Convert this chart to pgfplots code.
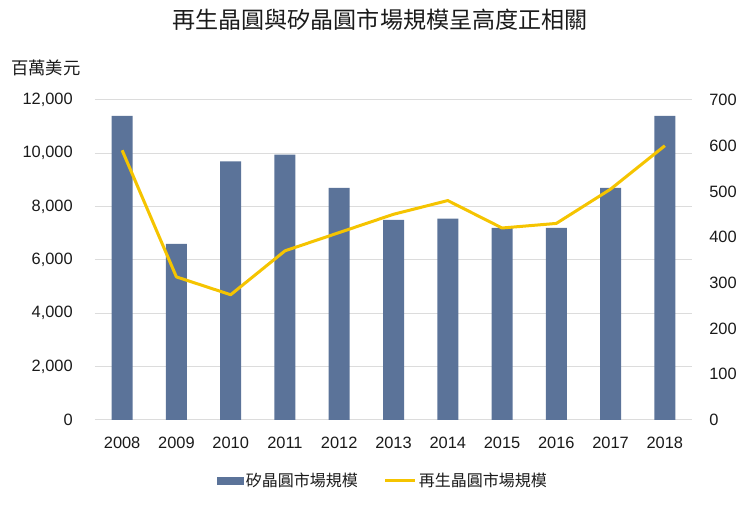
\documentclass[border=0pt]{standalone}
\usepackage{pgfplots}
\pgfplotsset{compat=1.18}
\usepackage{fontspec}
\setmainfont{Liberation Sans}
\newfontfamily\cjk{Noto Sans CJK TC}
\definecolor{barblue}{HTML}{5B7399}
\definecolor{lineyellow}{HTML}{F5C400}
\definecolor{gridgray}{HTML}{DCDCDC}
\definecolor{txt}{HTML}{1A1A1A}
\begin{document}
\begin{tikzpicture}[x=1pt,y=1pt]
\path[use as bounding box] (0,0) rectangle (555,378.75);
\node[font=\cjk\fontsize{17.3}{20}\selectfont, text=txt] at (285,363.75) {再生晶圓與矽晶圓市場規模呈高度正相關};
\node[anchor=west, inner sep=0pt, text=txt, font=\cjk\fontsize{13}{15}\selectfont] at (8.25,327.75) {百萬美元};
\begin{axis}[
  at={(71.25pt,63.75pt)}, anchor=south west, scale only axis,
  width=447.75pt, height=240pt,
  xmin=-0.5, xmax=10.5, ymin=0, ymax=12000,
  xtick={0,...,10},
  xticklabels={2008,2009,2010,2011,2012,2013,2014,2015,2016,2017,2018},
  ytick={0,2000,...,12000},
  axis line style={draw=none}, major tick length=0pt,
  ymajorgrids, grid style={gridgray, line width=0.75pt},
  /pgf/number format/assume math mode=true,
  /pgf/number format/1000 sep={,},
  scaled y ticks=false,
  tick label style={text=txt, font=\fontsize{12.3}{14}\selectfont},
  yticklabel style={inner sep=0pt, xshift=-16.5pt},
  xticklabel style={inner sep=0pt, anchor=center, yshift=-17.5pt},
  legend columns=2,
  legend style={at={(0.4824,-0.1906)}, anchor=center, draw=none, fill=none,
    font=\cjk\fontsize{12}{14}\selectfont, text=txt,
    nodes={inner sep=1.5pt},
    /tikz/every even column/.append style={column sep=18pt}},
]
\addplot[ybar, bar width=15.75pt, fill=barblue, draw=none,
  legend image code/.code={\fill[barblue] (0pt,-3pt) rectangle (20pt,3pt);}]
  coordinates {(0,11400) (1,6600) (2,9700) (3,9950) (4,8700) (5,7500) (6,7550) (7,7200) (8,7200) (9,8700) (10,11400)};
\addlegendentry{矽晶圓市場規模}
\addlegendimage{legend image code/.code={\draw[lineyellow, line width=2.25pt] (0pt,0pt) -- (22.5pt,0pt);}}
\addlegendentry{再生晶圓市場規模}
\end{axis}
\begin{axis}[
  at={(71.25pt,63.75pt)}, anchor=south west, scale only axis,
  width=447.75pt, height=240pt,
  xmin=-0.5, xmax=10.5, ymin=0, ymax=700,
  axis x line=none, axis y line*=right,
  axis line style={draw=none}, major tick length=0pt,
  ytick={0,100,...,700},
  /pgf/number format/assume math mode=true,
  tick label style={text=txt, font=\fontsize{12.3}{14}\selectfont},
  yticklabel style={inner sep=0pt, anchor=west, xshift=12.75pt},
]
\addplot[lineyellow, line width=2.25pt, mark=none, line join=round]
  coordinates {(0,590) (1,313) (2,274) (3,370) (4,410) (5,450) (6,480) (7,420) (8,430) (9,505) (10,600)};
\end{axis}
\end{tikzpicture}
\end{document}
